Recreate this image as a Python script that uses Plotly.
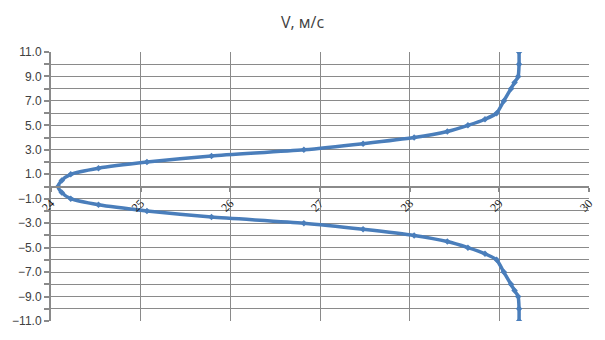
import plotly.graph_objects as go

# Data (symmetric curve)
v_upper = [0.0, 0.5, 1.0, 1.5, 2.0, 2.5, 3.0, 3.5, 4.0, 4.5, 5.0, 5.5, 6.0, 7.0, 8.0, 8.5, 9.0, 10.0, 11.0]
x_upper = [24.08, 24.12, 24.22, 24.53, 25.07, 25.79, 26.82, 27.48, 28.05, 28.42, 28.65, 28.84, 28.97, 29.05, 29.13, 29.17, 29.21, 29.22, 29.22]

v_values = [-v for v in reversed(v_upper[1:])] + v_upper
x_values = list(reversed(x_upper[1:])) + x_upper

x_ticks = [24, 25, 26, 27, 28, 29, 30]
x_labels = ["24", "25", "26", "27", "28", "29", "30"]

title_text = "V, м/с"

grid = "#8a8a8a"
fig = go.Figure()
fig.add_trace(go.Scatter(
    x=x_values, y=v_values, mode="lines+markers",
    line=dict(color="#4a7ebb", width=3.5, shape="spline", smoothing=0.6),
    marker=dict(color="#4a7ebb", size=5, symbol="diamond"),
    showlegend=False, hoverinfo="skip",
))

fig.update_layout(
    width=605, height=340,
    margin=dict(l=50, r=16, t=52, b=13),
    paper_bgcolor="white", plot_bgcolor="white",
    title=dict(text=title_text, x=0.5, xanchor="center", y=0.935, yanchor="middle",
               font=dict(family="Open Sans, Liberation Sans, sans-serif", size=16, color="#404040")),
    font=dict(family="Liberation Sans, Arial, sans-serif", size=12, color="#404040"),
    xaxis=dict(
        range=[24, 30], tickvals=x_ticks, ticktext=x_labels,
        anchor="free", position=0.5, automargin=False,
        showgrid=True, gridcolor=grid, gridwidth=1,
        showline=True, linecolor=grid, linewidth=2,
        ticks="outside", ticklen=4, tickcolor=grid, tickwidth=2,
        tickangle=-45, zeroline=False,
        tickfont=dict(size=12, color="#202020", family="Liberation Serif, serif"),
    ),
    yaxis=dict(
        range=[-11, 11], tick0=1, dtick=2, tickformat=".1f",
        showgrid=True, gridcolor=grid, gridwidth=1,
        showline=True, linecolor=grid, linewidth=2,
        ticks="outside", ticklen=5, tickcolor=grid, tickwidth=2,
        zeroline=False,
        minor=dict(dtick=1, tick0=0, showgrid=True, gridcolor=grid, gridwidth=1,
                   ticks="outside", ticklen=5, tickcolor=grid, tickwidth=2),
    ),
)

fig.write_html("out.html")
